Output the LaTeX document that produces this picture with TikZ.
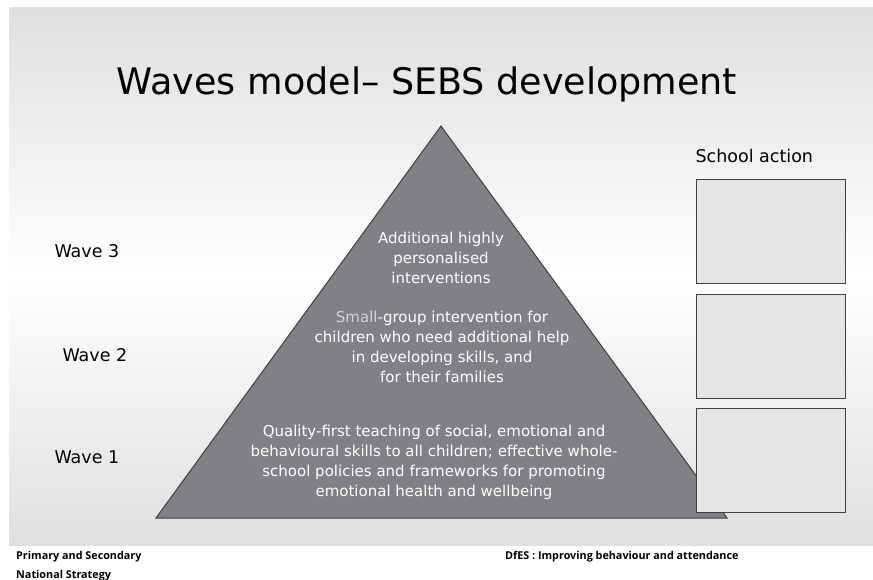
\documentclass[tikz,border=0pt]{standalone}
\usepackage{fontspec}
\setmainfont{DejaVu Sans}
\newfontfamily\footfont{Open Sans}
\usetikzlibrary{positioning}
\definecolor{panelgray}{HTML}{DEDFE1}
\definecolor{pyramidgray}{HTML}{808184}
\definecolor{boxgray}{HTML}{E4E5E7}
\definecolor{edgegray}{HTML}{404040}
\definecolor{smallgray}{HTML}{D2D2D4}

\begin{document}
\begin{tikzpicture}[x=1pt,y=-1pt,
    wave/.style={anchor=west,font=\fontsize{17.5}{20}\selectfont},
    tier/.style={align=center,text=white,font=\fontsize{15}{20}\selectfont},
    actionbox/.style={draw=edgegray,line width=1.2pt,fill=boxgray,minimum width=149pt,minimum height=104pt,inner sep=0pt,anchor=north west},
    foot/.style={anchor=west,inner sep=0pt,font=\footfont\bfseries\fontsize{10.8}{12}\selectfont}]
    \useasboundingbox (0,0) rectangle (873,580);
    % background panel
    \shade[top color=panelgray,bottom color=panelgray,middle color=white] (9,8) rectangle (873,545);
    \node[font=\fontsize{36.5}{42}\selectfont] at (427,84) (title) {Waves model– SEBS development};
    % pyramid
    \coordinate (apex) at (441,126);
    \coordinate (baseleft) at (156,518);
    \coordinate (baseright) at (727,518);
    \draw[fill=pyramidgray,draw=edgegray,line width=1pt] (apex) -- (baseright) -- (baseleft) -- cycle;
    \node[tier] at (441,258) (tier3) {Additional highly\\personalised\\interventions};
    \node[tier] at (442,347) (tier2) {\textcolor{smallgray}{Small}-group intervention for\\children who need additional help\\in developing skills, and\\for their families};
    \node[tier] at (434,462) (tier1) {Quality-first teaching of social, emotional and\\behavioural skills to all children; effective whole-\\school policies and frameworks for promoting\\emotional health and wellbeing};
    % wave labels
    \node[wave] at (51,251) (wave3) {Wave 3};
    \node[wave] at (59,355) (wave2) {Wave 2};
    \node[wave] at (51,457) (wave1) {Wave 1};
    % school action
    \node[anchor=west,font=\fontsize{17.5}{20}\selectfont] at (692,156) (action) {School action};
    \node[actionbox] at (696,179) (box3) {};
    \node[actionbox] at (696,294) (box2) {};
    \node[actionbox] at (696,408) (box1) {};
    % footer
    \node[foot] at (16,557) (strategy1) {Primary and Secondary};
    \node[foot] at (16,576) (strategy2) {National Strategy};
    \node[foot] at (505,557) (dfes) {DfES : Improving behaviour and attendance};
\end{tikzpicture}
\end{document}
